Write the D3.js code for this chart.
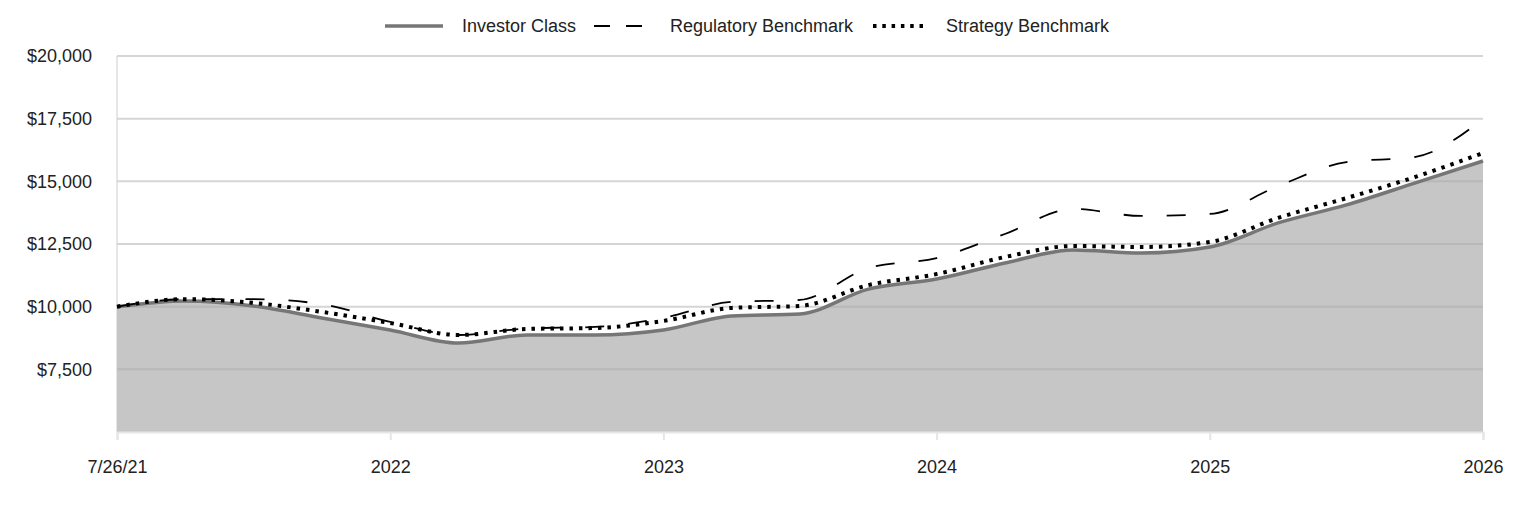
<!DOCTYPE html>
<html>
<head>
<meta charset="utf-8">
<script src="https://cdn.jsdelivr.net/npm/d3@7"></script>
<style>
  body { margin: 0; background: #fff; }
  text { font-family: "Liberation Sans", Arial, sans-serif; font-size: 18px; fill: #222; }
</style>
</head>
<body>
<div class="chart"></div>
<script>
var svgWidth = 1524;
var svgHeight = 516;

var margin = { top: 56, right: 41, bottom: 84, left: 117 };
var width = svgWidth - margin.left - margin.right;
var height = svgHeight - margin.top - margin.bottom;

// quarterly points from 7/26/21 through 2026
var periods = d3.range(0, 21);
var tickIdx = [0, 4, 8, 12, 16, 20];
var tickLabels = ["7/26/21", "2022", "2023", "2024", "2025", "2026"];
var yTicks = [7500, 10000, 12500, 15000, 17500, 20000];

var investorClass = [10000, 10230, 10030, 9550, 9070, 8550, 8870, 8870, 9070, 9630, 9710,
  10700, 11100, 11740, 12260, 12140, 12380, 13340, 14060, 14930, 15810];
var regulatoryBenchmark = [10000, 10300, 10300, 10100, 9390, 8870, 9130, 9190, 9550, 10190, 10270,
  11540, 11940, 12900, 13900, 13620, 13700, 14810, 15770, 15970, 17490];
var strategyBenchmark = [10000, 10300, 10150, 9790, 9350, 8870, 9110, 9150, 9430, 9950, 10030,
  10860, 11300, 11980, 12420, 12380, 12580, 13540, 14330, 15170, 16130];

var svg = d3.select(".chart")
  .append("svg")
  .attr("width", svgWidth)
  .attr("height", svgHeight);

var chartGroup = svg.append("g")
  .attr("transform", `translate(${margin.left}, ${margin.top})`);

var x = d3.scaleLinear().domain([0, 20]).range([0, width]);
var y = d3.scaleLinear().domain([5000, 20000]).range([height, 0]);

// gridlines (behind)
chartGroup.selectAll(".grid")
  .data(yTicks)
  .enter()
  .append("line")
  .attr("x1", 0)
  .attr("x2", width)
  .attr("y1", d => y(d))
  .attr("y2", d => y(d))
  .attr("stroke", "#e6e6e6")
  .attr("stroke-width", 2);

chartGroup.append("line")
  .attr("x1", 0).attr("x2", 0)
  .attr("y1", 0).attr("y2", height)
  .attr("stroke", "#e6e6e6")
  .attr("stroke-width", 2);

var curve = d3.curveMonotoneX;

var area = d3.area()
  .x((d, i) => x(periods[i]))
  .y0(height)
  .y1(d => y(d))
  .curve(curve);

chartGroup.append("path")
  .datum(investorClass)
  .attr("d", area)
  .attr("fill", "#c6c6c6");

// gridlines seen through the area
chartGroup.selectAll(".grid2")
  .data(yTicks)
  .enter()
  .append("line")
  .attr("x1", 0)
  .attr("x2", width)
  .attr("y1", d => y(d))
  .attr("y2", d => y(d))
  .attr("stroke", "#000")
  .attr("stroke-opacity", 0.07)
  .attr("stroke-width", 2);

// bottom axis
var bottomAxis = d3.axisBottom(x)
  .tickValues(tickIdx)
  .tickSize(8)
  .tickFormat((d, i) => tickLabels[i]);

var xAxis = chartGroup.append("g")
  .attr("transform", `translate(0, ${height})`)
  .call(bottomAxis);
xAxis.select(".domain").attr("stroke", "#e6e6e6").attr("stroke-width", 2);
xAxis.selectAll(".tick line").attr("stroke", "#e6e6e6").attr("stroke-width", 2);
xAxis.selectAll(".tick text")
  .attr("y", 28)
  .attr("dy", "0.71em")
  .style("font-size", "18px")
  .style("font-family", "Liberation Sans, Arial, sans-serif")
  .attr("fill", "#222");

// left axis labels
var leftAxis = d3.axisLeft(y)
  .tickValues(yTicks)
  .tickSize(0)
  .tickPadding(25)
  .tickFormat(d => "$" + d3.format(",")(d));
var yAxis = chartGroup.append("g").call(leftAxis);
yAxis.select(".domain").remove();
yAxis.selectAll(".tick text")
  .style("font-size", "18px")
  .style("font-family", "Liberation Sans, Arial, sans-serif")
  .attr("fill", "#222");

var line = d3.line()
  .x((d, i) => x(periods[i]))
  .y(d => y(d))
  .curve(curve);

chartGroup.append("path")
  .datum(investorClass)
  .attr("d", line)
  .attr("fill", "none")
  .attr("stroke", "#767676")
  .attr("stroke-width", 3.5);

chartGroup.append("path")
  .datum(regulatoryBenchmark)
  .attr("d", line)
  .attr("fill", "none")
  .attr("stroke", "#000")
  .attr("stroke-width", 1.8)
  .attr("stroke-dasharray", "19,24");

chartGroup.append("path")
  .datum(strategyBenchmark)
  .attr("d", line)
  .attr("fill", "none")
  .attr("stroke", "#000")
  .attr("stroke-width", 4)
  .attr("stroke-dasharray", "3.5,6");

// legend
var legend = svg.append("g").attr("transform", "translate(0, 26)");
var legendItems = [
  { name: "Investor Class", x1: 385, x2: 443, tx: 462, stroke: "#767676", w: 3.5, dash: null },
  { name: "Regulatory Benchmark", x1: 594, x2: 642, tx: 670, stroke: "#000", w: 1.8, dash: "16,16" },
  { name: "Strategy Benchmark", x1: 873, x2: 925, tx: 946, stroke: "#000", w: 4, dash: "3.5,5.8" }
];
legendItems.forEach(function (d) {
  legend.append("line")
    .attr("x1", d.x1).attr("x2", d.x2)
    .attr("y1", 0).attr("y2", 0)
    .attr("stroke", d.stroke)
    .attr("stroke-width", d.w)
    .attr("stroke-dasharray", d.dash);
  legend.append("text")
    .attr("x", d.tx)
    .attr("y", 0)
    .attr("dy", "0.35em")
    .text(d.name);
});
</script>
</body>
</html>
